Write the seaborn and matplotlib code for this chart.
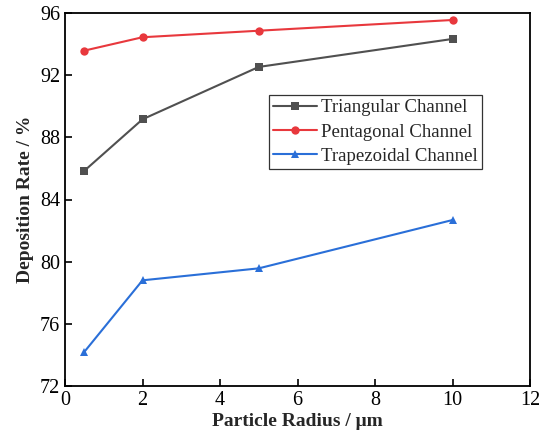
import matplotlib
matplotlib.use("Agg")
import matplotlib.pyplot as plt
import seaborn as sns
import pandas as pd

radius = [0.5, 2, 5, 10]
triangular = [85.85, 89.16, 92.53, 94.33]
pentagonal = [93.58, 94.44, 94.86, 95.55]
trapezoidal = [74.2, 78.8, 79.57, 82.68]
series_names = ["Triangular Channel", "Pentagonal Channel", "Trapezoidal Channel"]
colors = ["#505050", "#e8383d", "#2a6fd8"]
markers = ["s", "o", "^"]

df = pd.concat([
    pd.DataFrame({"r": radius, "v": vals, "s": name})
    for name, vals in zip(series_names, [triangular, pentagonal, trapezoidal])
])

sns.set_style("ticks")
plt.rcParams["font.family"] = ["Liberation Serif", "DejaVu Serif"]
plt.rcParams["mathtext.fontset"] = "stix"

fig = plt.figure(figsize=(5.39, 4.32), dpi=100)
ax = fig.add_axes([65/539, 1-386/432, 465/539, 373/432])

sns.lineplot(data=df, x="r", y="v", hue="s", style="s", palette=colors,
             markers=markers, dashes=False, markersize=6, linewidth=1.5,
             markeredgewidth=0, ax=ax)

ax.set_xlim(0, 12)
ax.set_ylim(72, 96)
ax.set_xticks([0, 2, 4, 6, 8, 10, 12])
ax.set_yticks([72, 76, 80, 84, 88, 92, 96])
ax.tick_params(direction="in", length=5, width=1.2, labelsize=14.5, colors="black")
for sp in ax.spines.values():
    sp.set_linewidth(1.3)
    sp.set_color("black")
ax.set_xlabel("Particle Radius / μm", fontsize=14, fontweight="bold", labelpad=2)
ax.set_ylabel("Deposition Rate / %", fontsize=14, fontweight="bold", labelpad=4)

leg = ax.legend(title=None, loc="upper left", bbox_to_anchor=(0.439, 0.78),
                fontsize=13.5, frameon=True, fancybox=False, edgecolor="black",
                borderpad=0.22, labelspacing=0.38, handlelength=2.35, handletextpad=0.2,
                borderaxespad=0)
leg.get_frame().set_linewidth(0.9)

fig.savefig("out.png", dpi=100)
